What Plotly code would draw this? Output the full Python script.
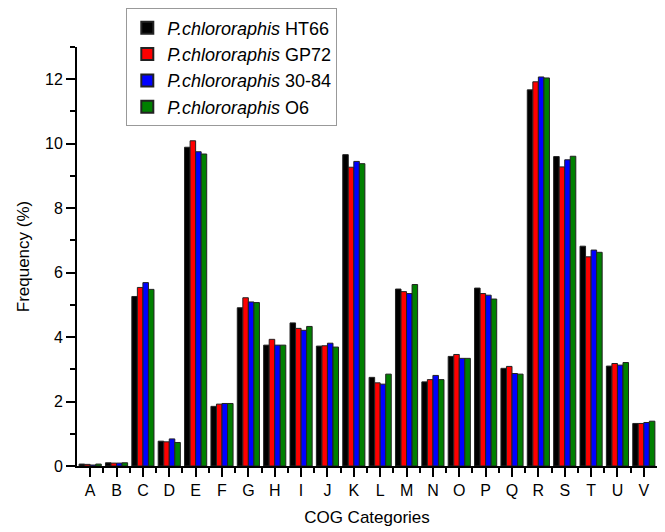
import plotly.graph_objects as go

categories = ["A","B","C","D","E","F","G","H","I","J","K","L","M","N","O","P","Q","R","S","T","U","V"]
strains = ["HT66", "GP72", "30-84", "O6"]
colors = ["#000000", "#ff0000", "#0000ff", "#008000"]

ht66 = [0.06,0.10,5.26,0.77,9.89,1.85,4.91,3.75,4.44,3.72,9.66,2.75,5.49,2.61,3.40,5.52,3.03,11.67,9.60,6.82,3.10,1.32]
gp72 = [0.05,0.09,5.54,0.75,10.09,1.92,5.22,3.93,4.27,3.73,9.27,2.58,5.41,2.68,3.46,5.35,3.09,11.92,9.28,6.49,3.18,1.32]
s3084 = [0.03,0.09,5.69,0.84,9.75,1.94,5.09,3.75,4.21,3.81,9.45,2.54,5.35,2.81,3.34,5.30,2.87,12.07,9.50,6.70,3.13,1.35]
o6 = [0.06,0.10,5.48,0.73,9.68,1.94,5.07,3.75,4.33,3.69,9.38,2.85,5.63,2.68,3.34,5.18,2.85,12.04,9.61,6.63,3.21,1.39]
series = [ht66, gp72, s3084, o6]

x = list(range(len(categories)))
fig = go.Figure()
for name, vals, c in zip(strains, series, colors):
    fig.add_trace(go.Bar(
        x=x, y=vals, name="<i>P.chlororaphis</i> " + name,
        marker=dict(color=c, line=dict(color="#222222", width=1)),
    ))

font = "Liberation Sans, Arial, sans-serif"
fig.update_layout(
    width=665, height=532,
    margin=dict(l=77, r=8, t=45, b=66),
    barmode="group", bargap=0.16, bargroupgap=0,
    plot_bgcolor="white", paper_bgcolor="white",
    font=dict(family=font, size=16, color="black"),
    showlegend=True,
    legend=dict(
        x=0.085, y=1.092, xanchor="left", yanchor="top",
        bordercolor="#999999", borderwidth=1, bgcolor="white",
        font=dict(size=18, family=font), tracegroupgap=0,
        itemsizing="constant",
    ),
    xaxis=dict(
        range=[-0.5, 21.5], automargin=False,
        tickmode="array", tickvals=x, ticktext=categories,
        ticks="outside", ticklen=9, tickwidth=2, tickcolor="black",
        showline=True, linecolor="black", linewidth=2,
        showgrid=False, zeroline=False,
        minor=dict(tickmode="array", tickvals=[i + 0.5 for i in x[:-1]], ticks="outside", ticklen=5, tickcolor="black", tickwidth=2),
        title=dict(text="COG Categories", font=dict(size=17), standoff=13),
        tickfont=dict(size=16),
    ),
    yaxis=dict(
        range=[0, 13.0], automargin=False,
        tickmode="linear", tick0=0, dtick=2,
        ticks="outside", ticklen=9, tickwidth=2, tickcolor="black",
        showline=True, linecolor="black", linewidth=2,
        showgrid=False, zeroline=False,
        minor=dict(dtick=1, ticks="outside", ticklen=5, tickcolor="black", tickwidth=2),
        title=dict(text="Frequency (%)", font=dict(size=17), standoff=11),
        tickfont=dict(size=16),
    ),
)
fig.write_html("out.html")
